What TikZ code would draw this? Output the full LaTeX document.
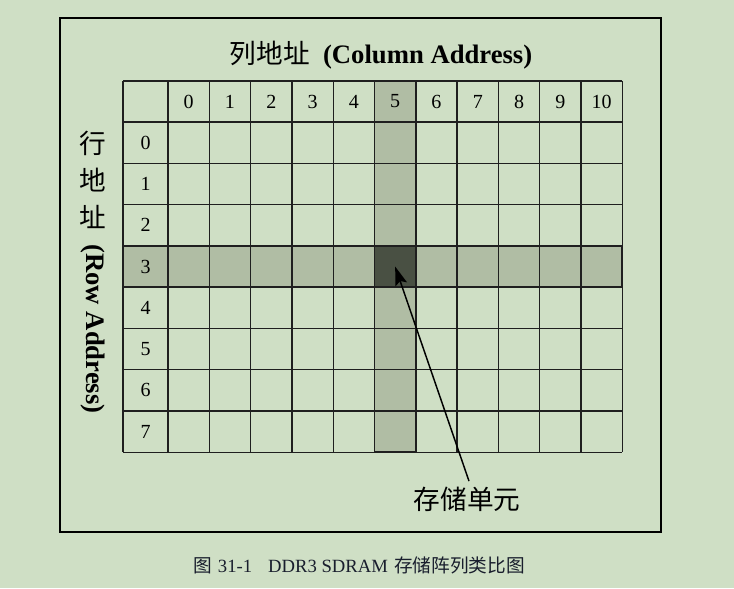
\documentclass[tikz,border=0pt]{standalone}
\usepackage{fontspec}
\newfontfamily\cjk{Noto Sans CJK SC}
\newfontfamily\tnr{Liberation Serif}
\usetikzlibrary{arrows.meta,positioning}
\definecolor{pagebg}{RGB}{207,223,197}
\definecolor{cellshade}{RGB}{176,189,164}
\definecolor{celldark}{RGB}{73,80,67}
\definecolor{captionink}{RGB}{25,30,45}
\tikzset{
  gridline/.style={draw=black!88, line width=1pt},
  hiliteborder/.style={draw=black!88, line width=1.4pt},
  numlabel/.style={font=\fontsize{15}{18}\selectfont\tnr, inner sep=0pt},
  headlabel/.style={font=\fontsize{20}{24}\selectfont, inner sep=1pt},
  unitarrow/.style={-{Stealth[length=14pt,width=9pt,inset=2.5pt]}, line width=1.1pt}
}

\begin{document}
\begin{tikzpicture}[x=0.75pt, y=-0.75pt]
  % page and frame
  \fill[pagebg] (0,0) rectangle (734,588);
  \useasboundingbox (0,0) rectangle (734,588);
  \draw[line width=1.6pt] (60,18) rectangle (661,532);
  % shaded row 3 and column 5
  \fill[cellshade] (123,245.9) rectangle (622.3,287.2);
  \fill[cellshade] (374.5,81) rectangle (415.8,452.4);
  % grid
  \draw[gridline] (123,81) -- (123,452.4);
  \foreach \i in {0,...,11}
    \draw[gridline] ({168+41.3*\i},81) -- ({168+41.3*\i},452.4);
  \draw[gridline] (123,81) -- (622.3,81);
  \foreach \j in {0,...,8}
    \draw[gridline] (123,{122+41.3*\j}) -- (622.3,{122+41.3*\j});
  \draw[hiliteborder] (123,245.9) rectangle (622.3,287.2);
  \draw[hiliteborder] (374.5,81) rectangle (415.8,452.4);
  % memory cell
  \node[draw=black!88, fill=celldark, line width=1.4pt, minimum width=31pt,
    minimum height=31pt, inner sep=0pt] (cell) at (395.15,266.55) {};
  % indices
  \foreach \c in {0,...,10}
    \node[numlabel] (col\c) at ({188.65+41.3*\c},101.5) {\c};
  \foreach \r in {0,...,7}
    \node[numlabel] (row\r) at (145.5,{142.65+41.3*\r}) {\r};
  % titles
  \node[headlabel] (coltitle) at (381,55)
    {{\cjk 列地址}\hspace{10pt}{\tnr\bfseries (Column Address)}};
  \node[headlabel, align=center, font=\fontsize{20}{28}\selectfont\cjk] (rowcn) at (93,180) {行\\地\\址};
  \node[headlabel, rotate=-90] (rowen) at (93,329) {\tnr\bfseries (Row Address)};
  \node[headlabel, font=\fontsize{20}{24}\selectfont\cjk] (unit) at (467,499) {存储单元};
  \draw[unitarrow] ([xshift=1.5pt,yshift=3pt]unit.north) -- (cell.center);
  % caption
  \node[font=\fontsize{14}{17}\selectfont, text=captionink] (caption) at (359,565)
    {{\cjk 图} {\tnr 31-1}\hspace{12pt}{\tnr DDR3 SDRAM} {\cjk 存储阵列类比图}};
\end{tikzpicture}
\end{document}
